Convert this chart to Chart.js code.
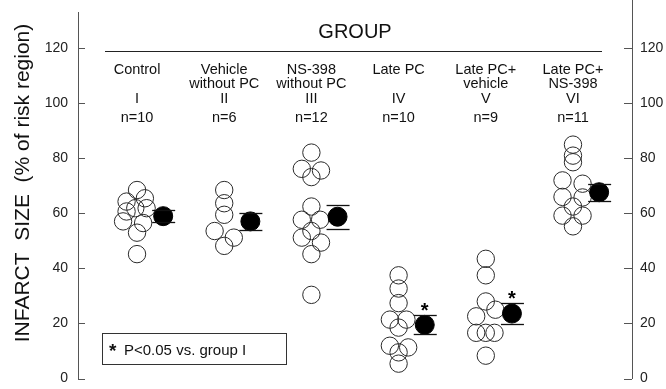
<!DOCTYPE html>
<html>
<head>
<meta charset="utf-8">
<script src="https://cdn.jsdelivr.net/npm/chart.js@4.4.1/dist/chart.umd.min.js"></script>
<style>
  html, body { margin: 0; padding: 0; background: #ffffff; }
  #wrap { width: 666px; height: 389px; position: relative; }
</style>
</head>
<body>
<div id="wrap"><canvas id="c" width="666" height="389"></canvas></div>
<script>
// ---------------- data ----------------
const groupNames = [["Control"], ["Vehicle", "without PC"], ["NS-398", "without PC"], ["Late PC"], ["Late PC+", "vehicle"], ["Late PC+", "NS-398"]];
const romanLabels = ["I", "II", "III", "IV", "V", "VI"];
const nLabels = ["n=10", "n=6", "n=12", "n=10", "n=9", "n=11"];

const controlValues        = [68.5, 65.5, 64.3, 61.9, 61.9, 60.7, 57.1, 56.5, 53.0, 45.2];
const controlOffsets       = [0, 0.09, -0.12, -0.02, 0.11, -0.12, -0.16, 0.07, 0, 0];
const vehicleValues        = [68.5, 63.7, 59.5, 53.6, 51.2, 48.2];
const vehicleOffsets       = [0, 0, 0, -0.11, 0.11, 0];
const ns398Values          = [82.1, 76.2, 75.6, 73.2, 62.5, 57.7, 57.7, 53.6, 51.2, 49.4, 45.2, 30.4];
const ns398Offsets         = [0, -0.11, 0.11, 0, 0, -0.11, 0.1, 0, -0.11, 0.11, 0, 0];
const latePCValues         = [37.5, 32.7, 27.4, 21.4, 21.4, 18.5, 11.9, 11.3, 9.5, 5.4];
const latePCOffsets        = [0, 0, 0, -0.1, 0.09, 0, -0.1, 0.11, 0, 0];
const latePCVehicleValues  = [43.5, 37.5, 28.0, 25.0, 22.6, 16.6, 16.6, 16.6, 8.3];
const latePCVehicleOffsets = [0, 0, 0, 0.11, -0.11, -0.11, 0, 0.1, 0];
const latePCNS398Values    = [85.0, 81.0, 78.6, 72.0, 70.8, 66.0, 65.8, 62.5, 59.2, 59.2, 55.3];
const latePCNS398Offsets   = [0, 0, 0, -0.12, 0.11, -0.12, 0.11, 0, -0.12, 0.11, 0];

const groupMeans = [59.0, 57.1, 58.8, 19.5, 23.6, 67.7];
const groupSEM   = [2.1, 3.1, 4.3, 3.5, 3.7, 3.1];
const significant = [false, false, false, true, true, false];
const yTicks = [0, 20, 40, 60, 80, 100, 120];
const legendText = "P<0.05 vs. group I";
const yTitle = "INFARCT  SIZE  (% of risk region)";
const headerTitle = "GROUP";

// ---------------- build datasets ----------------
const allValues = [controlValues, vehicleValues, ns398Values, latePCValues, latePCVehicleValues, latePCNS398Values];
const allOffsets = [controlOffsets, vehicleOffsets, ns398Offsets, latePCOffsets, latePCVehicleOffsets, latePCNS398Offsets];
const MEAN_SHIFT = 0.3;

const meanData = groupMeans.map((m, i) => ({ x: i + 1 + MEAN_SHIFT, y: m }));
const datasets = [{
  label: "mean",
  data: meanData,
  pointRadius: 9.5,
  pointBackgroundColor: "#000",
  pointBorderColor: "#000",
  pointBorderWidth: 1,
  showLine: false
}];
allValues.forEach((vals, i) => {
  datasets.push({
    label: "g" + (i + 1),
    data: vals.map((v, j) => ({ x: i + 1 + allOffsets[i][j], y: v })),
    pointRadius: 8.7,
    pointBackgroundColor: "rgba(0,0,0,0)",
    pointBorderColor: "#2a2a2a",
    pointBorderWidth: 1,
    showLine: false
  });
});

const FONT = '"Liberation Sans", Arial, Helvetica, sans-serif';

const decor = {
  id: "decor",
  afterDatasetsDraw(chart) {
    const ctx = chart.ctx;
    const xs = chart.scales.x, ys = chart.scales.y;
    ctx.save();
    // error bars (horizontal caps at mean ± SEM)
    ctx.strokeStyle = "#111";
    ctx.lineWidth = 1.3;
    groupMeans.forEach((m, i) => {
      const cx = xs.getPixelForValue(i + 1 + MEAN_SHIFT);
      [m + groupSEM[i], m - groupSEM[i]].forEach(v => {
        const py = Math.round(ys.getPixelForValue(v)) + 0.5;
        ctx.beginPath();
        ctx.moveTo(cx - 11, py);
        ctx.lineTo(cx + 12, py);
        ctx.stroke();
      });
      if (significant[i]) {
        ctx.fillStyle = "#000";
        ctx.font = "bold 20px " + FONT;
        ctx.textAlign = "center";
        ctx.textBaseline = "alphabetic";
        ctx.fillText("*", cx, ys.getPixelForValue(m + groupSEM[i]) + 2);
      }
    });
    ctx.restore();
  },
  afterDraw(chart) {
    const ctx = chart.ctx;
    const xs = chart.scales.x, ys = chart.scales.y;
    const area = chart.chartArea;
    ctx.save();
    // inward tick marks
    ctx.strokeStyle = "#555";
    ctx.lineWidth = 1;
    yTicks.forEach(v => {
      const py = Math.round(ys.getPixelForValue(v)) + 0.5;
      ctx.beginPath();
      ctx.moveTo(area.left, py); ctx.lineTo(area.left + 7, py);
      ctx.moveTo(area.right - 8, py); ctx.lineTo(area.right, py);
      ctx.stroke();
    });
    // right axis extends to top
    ctx.beginPath();
    ctx.moveTo(area.right + 0.5, 0); ctx.lineTo(area.right + 0.5, area.top);
    ctx.stroke();

    ctx.fillStyle = "#111";
    ctx.textAlign = "center";
    ctx.textBaseline = "middle";
    // header
    const midX = (area.left + area.right) / 2;
    ctx.font = "20px " + FONT;
    ctx.fillText(headerTitle, midX, 32);
    ctx.strokeStyle = "#222";
    ctx.beginPath();
    ctx.moveTo(area.left + 27, 51.5); ctx.lineTo(area.right - 30, 51.5);
    ctx.stroke();
    // group labels
    ctx.font = "14.5px " + FONT;
    groupNames.forEach((lines, i) => {
      const cx = xs.getPixelForValue(i + 1);
      lines.forEach((t, k) => ctx.fillText(t, cx, 70 + k * 13.5));
      ctx.fillText(romanLabels[i], cx, 99);
      ctx.fillText(nLabels[i], cx, 118);
    });
    // legend box
    ctx.strokeStyle = "#333";
    ctx.lineWidth = 1;
    ctx.strokeRect(102.5, 333.5, 184, 31);
    ctx.textAlign = "left";
    ctx.textBaseline = "alphabetic";
    ctx.font = "bold 19px " + FONT;
    ctx.fillText("*", 109, 357);
    ctx.font = "15px " + FONT;
    ctx.fillText(legendText, 124, 355);
    // y-axis title
    ctx.translate(23, 183);
    ctx.rotate(-Math.PI / 2);
    ctx.textAlign = "center";
    ctx.textBaseline = "middle";
    ctx.font = "21px " + FONT;
    ctx.fillText(yTitle, 0, 0);
    ctx.restore();
  }
};

function yAxis(pos, width, pad) {
  return {
    type: "linear",
    position: pos,
    min: 0,
    max: 133.2,
    afterBuildTicks: s => { s.ticks = yTicks.map(v => ({ value: v })); },
    afterFit: s => { s.width = width; s.paddingTop = 0; s.paddingBottom = 0; },
    grid: { display: false, drawTicks: false, tickLength: 0 },
    border: { display: true, color: "#555", width: 1 },
    ticks: { color: "#222", padding: pad, font: { size: 14, family: FONT } }
  };
}

new Chart(document.getElementById("c"), {
  type: "scatter",
  data: { datasets },
  options: {
    responsive: false,
    animation: false,
    devicePixelRatio: 1,
    layout: { padding: { top: 12, bottom: 4, left: 0, right: 0 } },
    plugins: { legend: { display: false }, tooltip: { enabled: false } },
    scales: {
      x: { type: "linear", min: 0.323, max: 6.677, display: false },
      y: yAxis("left", 78, 10),
      y2: yAxis("right", 34, 8)
    }
  },
  plugins: [decor]
});
</script>
</body>
</html>
